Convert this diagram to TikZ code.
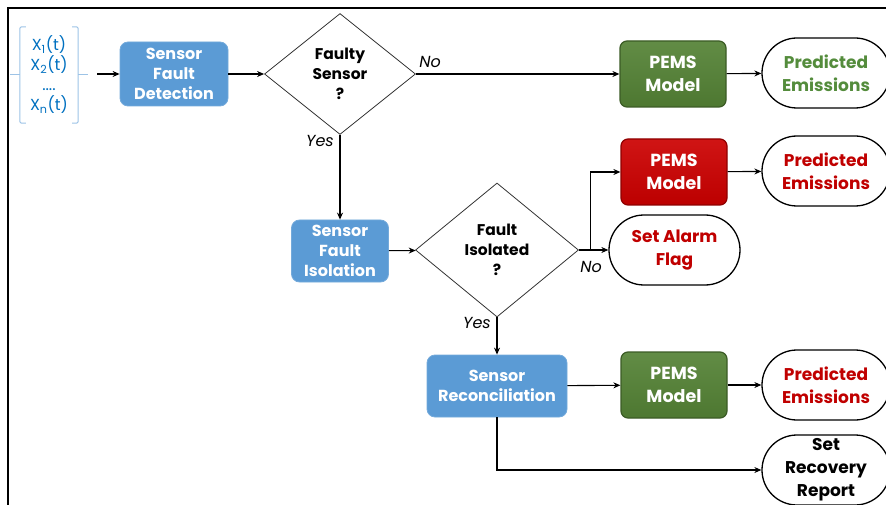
\documentclass[tikz,border=0pt]{standalone}
\usepackage{fontspec}
\setmainfont{Poppins}
\usetikzlibrary{arrows.meta,shapes.geometric,shapes.misc}

\definecolor{boxblue}{RGB}{91,155,213}
\definecolor{inblue}{RGB}{0,112,192}
\definecolor{brblue}{RGB}{157,195,230}
\definecolor{pemsgreen}{RGB}{84,130,53}
\definecolor{pemsred}{RGB}{204,0,0}
\definecolor{txtgreen}{RGB}{84,140,60}
\definecolor{txtred}{RGB}{192,0,0}

\tikzset{
  proc/.style={rounded corners=8pt, fill=boxblue, draw=boxblue!85!white, line width=0.8pt,
    text=white, align=center, inner sep=0pt,
    font=\bfseries\fontsize{16}{20}\selectfont},
  pems/.style={rounded corners=7pt, draw=#1!70!black, line width=1.2pt,
    top color=#1!92!white, bottom color=#1!92!black, text=white, align=center, inner sep=0pt,
    minimum width=106, minimum height=66,
    font=\bfseries\fontsize{17.5}{23}\selectfont},
  decide/.style={diamond, draw=black!80, line width=0.8pt, align=center, inner sep=0pt,
    font=\bfseries\fontsize{15.5}{20}\selectfont},
  result/.style={rounded rectangle, draw=black, line width=1.3pt, align=center, inner sep=0pt,
    minimum width=128, minimum height=70, text=#1,
    font=\bfseries\fontsize{17}{23}\selectfont},
  lbl/.style={font=\itshape\fontsize{16}{18}\selectfont, inner sep=0pt},
  bracket/.style={draw=brblue, line width=1pt, rounded corners=2pt},
  flow/.style={->, line width=1.1pt},
}

\begin{document}
\begin{tikzpicture}[x=1pt, y=-1pt, >={Stealth[length=7pt,width=6pt]}]
  \useasboundingbox (0,0) rectangle (886,505);
  \clip (0,0) rectangle (886,505);

  % frame
  \draw[line width=2.5pt] (8,506) -- (8,8) -- (887,8);

  % inputs
  \node[text=inblue, align=center, inner sep=0pt, minimum width=58, minimum height=96,
    font=\fontsize{16}{20}\selectfont] (xin) at (49,75)
    {X\textsubscript{1}(t)\\X\textsubscript{2}(t)\\....\\X\textsubscript{n}(t)};
  \draw[bracket] ([xshift=6]xin.north west) -| (xin.south west) -- ++(6,0);
  \draw[bracket] ([xshift=-6]xin.north east) -| (xin.south east) -- ++(-6,0);
  \draw[bracket] (xin.west) -- ++(-10,0);
  \draw[bracket] (xin.east) -- ++(10,0);
  \coordinate (xout) at (97,74);

  % first row
  \node[proc, minimum width=108, minimum height=64] (sfd) at (174,74) {Sensor\\Fault\\Detection};
  \node[decide, minimum width=151, minimum height=121] (faulty) at (340,74) {Faulty\\Sensor\\?};
  \node[pems=pemsgreen] (pems1) at (673,74) {PEMS\\Model};
  \node[result=txtgreen] (pred1) at (826,73) {Predicted\\Emissions};

  % isolation
  \node[proc, minimum width=97, minimum height=62] (sfi) at (340,251) {Sensor\\Fault\\Isolation};
  \node[decide, minimum width=163, minimum height=134] (isol) at (497,250) {Fault\\Isolated\\?};
  \node[pems=pemsred] (pems2) at (674,172) {PEMS\\Model};
  \node[result=txtred] (pred2) at (826,171) {Predicted\\Emissions};
  \node[result=txtred, minimum width=131] (alarm) at (674.5,250) {Set Alarm\\Flag};

  % reconciliation
  \node[proc, minimum width=140, minimum height=62] (recon) at (497,386) {Sensor\\Reconciliation};
  \node[pems=pemsgreen] (pems3) at (674,385) {PEMS\\Model};
  \node[result=txtred] (pred3) at (826,385) {Predicted\\Emissions};
  \node[result=black] (recov) at (826,470) {Set\\Recovery\\Report};

  % connectors
  \draw[flow] (xout) -- (sfd);
  \draw[flow] (sfd) -- (faulty);
  \draw[flow] (faulty) -- (pems1);
  \draw[flow] (pems1) -- (pred1);
  \draw[flow] (faulty) -- (sfi);
  \draw[flow] (sfi) -- (isol);
  \draw[flow] (isol.east) -- ++(12,0) |- (pems2.west);
  \draw[flow] (isol) -- (alarm);
  \draw[flow] (pems2) -- (pred2);
  \draw[flow] (isol) -- (recon);
  \draw[flow] (recon) -- (pems3);
  \draw[flow] (pems3) -- (pred3);
  \draw[flow] (recon.south) |- (recov.west);

  % labels
  \node[lbl] (no1) at (430,62) {No};
  \node[lbl] (yes1) at (320,141) {Yes};
  \node[lbl] (no2) at (591,267) {No};
  \node[lbl] (yes2) at (477,323) {Yes};
\end{tikzpicture}
\end{document}
